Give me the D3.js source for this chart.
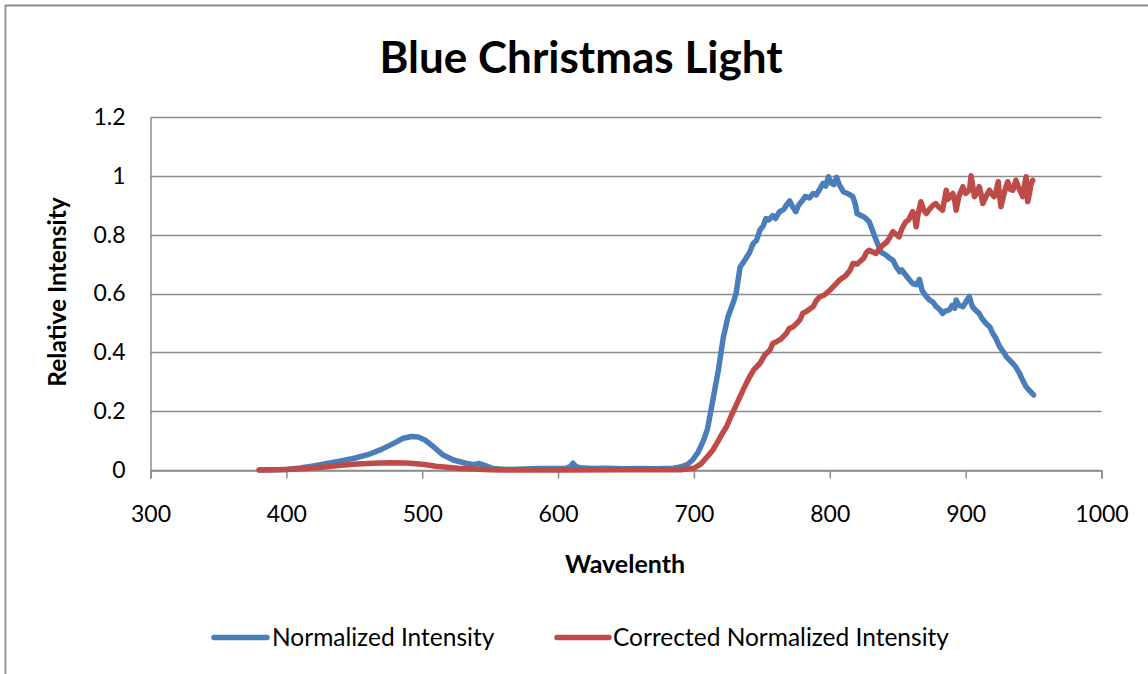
<!DOCTYPE html>
<html><head><meta charset="utf-8">
<script src="https://cdn.jsdelivr.net/npm/d3@7"></script>
<style>
html,body{margin:0;padding:0;background:#fff;}
svg{display:block;font-family:Lato,"Open Sans",sans-serif;}
</style></head>
<body>
<svg id="chart" width="1148" height="674"></svg>
<script>
const title = "Blue Christmas Light";
const xLabel = "Wavelenth";
const yLabel = "Relative Intensity";
const seriesNames = ["Normalized Intensity", "Corrected Normalized Intensity"];
const xTicks = [300, 400, 500, 600, 700, 800, 900, 1000];
const yTicks = [0, 0.2, 0.4, 0.6, 0.8, 1, 1.2];

const blueWave = [380,390,400,410,420,430,440,450,460,470,480,486,492,497,502,508,515,523,532,538,542,547,552,562,575,587,600,606,609,611,613,616,625,636,648,660,672,685,690,695,699,703,707,710,714,718,721.6,725,729,731,734,737,739,741,743.6,746,748.5,751,753,755,758,760,763,766,768,770.5,772,775,777,780,782,785,787.7,790,792,795,797,799,801,803,805,807,810,813,817,819,820,823,826,829,831,833,836,838,841.6,844,846.5,849,851.4,853,856,858,861,864,866,868,871,873.5,876,878.4,881,883,885,888,890,892,893,895,898,900,902.7,905,907,910,912,915,918,920,922,925,928,930,932,934.7,937,939.7,942,944.5,947,950];
const blueVal = [0,0.001,0.002,0.007,0.014,0.022,0.031,0.04,0.052,0.07,0.093,0.108,0.114,0.112,0.102,0.08,0.052,0.034,0.023,0.018,0.022,0.014,0.005,0.002,0.003,0.005,0.005,0.006,0.012,0.023,0.012,0.008,0.005,0.006,0.004,0.005,0.004,0.006,0.01,0.018,0.034,0.06,0.1,0.14,0.24,0.34,0.45,0.52,0.57,0.6,0.69,0.71,0.725,0.74,0.77,0.78,0.815,0.83,0.855,0.85,0.865,0.855,0.878,0.885,0.9,0.915,0.9,0.878,0.9,0.917,0.93,0.925,0.94,0.935,0.95,0.974,0.965,0.997,0.975,0.97,0.995,0.97,0.946,0.94,0.929,0.9,0.872,0.865,0.858,0.844,0.82,0.795,0.76,0.74,0.73,0.72,0.713,0.69,0.674,0.68,0.662,0.65,0.634,0.63,0.648,0.61,0.59,0.578,0.57,0.555,0.545,0.532,0.54,0.544,0.56,0.55,0.578,0.56,0.555,0.57,0.589,0.555,0.545,0.532,0.515,0.498,0.485,0.464,0.45,0.419,0.4,0.385,0.375,0.362,0.35,0.328,0.305,0.283,0.27,0.255];

const redWave = [380,400,415,430,440,452,464,476,488,496,503,510,518,528,538,550,562,600,650,690,700,705,710,714,718,721,724,728,731,734,737,741,744,748.5,752,756,758,760.8,764,768,770,773,776,778,780,783,786,787.7,790,792.6,796,800,803,807,810,812,815,817,820,822,825,827,829,832,834,837,839,842,844,846.5,849,851,853,856,858,861,862.5,863.6,865,867,869,871,874,876,878,880,883,885.7,887,890.6,892,893,895,898,900,902.8,904,906.5,908,910,911.5,912.6,915,917.5,919,921,922.5,924,925,926,928,929.5,931,932.5,934.7,936,937,939,940.5,942,943,944.5,945.7,947,948,949.4];
const redVal = [0,0.002,0.005,0.011,0.016,0.02,0.023,0.025,0.024,0.021,0.018,0.013,0.009,0.005,0.003,0.001,0,0,0.001,0.001,0.006,0.02,0.046,0.068,0.1,0.125,0.147,0.19,0.22,0.25,0.28,0.317,0.34,0.362,0.39,0.408,0.43,0.436,0.445,0.464,0.48,0.487,0.5,0.51,0.532,0.54,0.55,0.555,0.575,0.589,0.595,0.611,0.625,0.645,0.655,0.662,0.68,0.702,0.7,0.708,0.72,0.74,0.747,0.74,0.736,0.755,0.764,0.775,0.79,0.81,0.8,0.793,0.82,0.844,0.85,0.878,0.86,0.827,0.87,0.912,0.885,0.872,0.89,0.9,0.906,0.895,0.883,0.951,0.92,0.94,0.915,0.883,0.93,0.963,0.94,0.951,1.0,0.929,0.94,0.963,0.935,0.906,0.93,0.951,0.94,0.929,0.95,0.98,0.93,0.895,0.935,0.96,0.98,0.955,0.951,0.97,0.985,0.96,0.945,0.929,0.96,0.997,0.912,0.94,0.97,0.985];

const colors = ["#4a7ebb", "#be4b48"];

const svg = d3.select("#chart");
const W = 1148, H = 674;
const mLeft = 150.5, mRight = 1101.5, mTop = 117, mBottom = 470;

// outer chart border
svg.append("path").attr("d", `M5.5,${H+2}V5.5H${W+2}`).attr("fill","none").attr("stroke","#8c8c8c").attr("stroke-width",1.8);

const x = d3.scaleLinear().domain([300, 1000]).range([mLeft, mRight]);
const y = d3.scaleLinear().domain([0, 1.2]).range([mBottom, mTop]);

// gridlines
svg.append("g").selectAll("line").data(yTicks).join("line")
  .attr("x1", mLeft).attr("x2", mRight)
  .attr("y1", d => Math.round(y(d)) + 0.5).attr("y2", d => Math.round(y(d)) + 0.5)
  .attr("stroke", "#8c8c8c").attr("stroke-width", 1.5);

// x axis
const xAxis = d3.axisBottom(x).tickValues(xTicks).tickSize(8).tickPadding(27).tickFormat(d3.format("d"));
const gx = svg.append("g").attr("transform", `translate(0,${Math.round(y(0)) + 0.5})`).call(xAxis);
gx.select(".domain").attr("stroke", "#8c8c8c").attr("stroke-width", 1.5);
gx.selectAll(".tick line").attr("stroke", "#8c8c8c").attr("stroke-width", 1.5);
gx.selectAll(".tick text").attr("font-size", 23).attr("fill", "#000").attr("font-family", "Lato");

// y axis
const yAxis = d3.axisLeft(y).tickValues(yTicks).tickSize(0).tickPadding(25).tickFormat(d => d3.format("~g")(d));
const gy = svg.append("g").attr("transform", `translate(${mLeft},0)`).call(yAxis);
gy.select(".domain").attr("stroke", "#8c8c8c").attr("stroke-width", 1.5);
gy.selectAll(".tick text").attr("font-size", 23).attr("fill", "#000").attr("font-family", "Lato");

// lines
const line = d3.line().x(d => x(d[0])).y(d => y(d[1]));
const blueData = d3.zip(blueWave, blueVal);
const redData = d3.zip(redWave, redVal);
[blueData, redData].forEach((data, i) => {
  svg.append("path").datum(data).attr("d", line)
    .attr("fill", "none").attr("stroke", colors[i]).attr("stroke-width", 5.5)
    .attr("stroke-linejoin", "round").attr("stroke-linecap", "round");
});

// title
svg.append("text").attr("x", 581).attr("y", 73).attr("text-anchor", "middle")
  .attr("font-size", 44).attr("font-weight", "bold").text(title);

// axis titles
svg.append("text").attr("x", 625).attr("y", 573).attr("text-anchor", "middle")
  .attr("font-size", 25).attr("font-weight", "bold").text(xLabel);
svg.append("text").attr("transform", "translate(66,292) rotate(-90)").attr("text-anchor", "middle")
  .attr("font-size", 24.5).attr("font-weight", "bold").text(yLabel);

// legend
const legendItems = [{x1: 214, x2: 267, tx: 272}, {x1: 557, x2: 609, tx: 613}];
legendItems.forEach((it, i) => {
  svg.append("line").attr("x1", it.x1).attr("x2", it.x2).attr("y1", 637.5).attr("y2", 637.5)
    .attr("stroke", colors[i]).attr("stroke-width", 5.5).attr("stroke-linecap", "round");
  svg.append("text").attr("x", it.tx).attr("y", 646).attr("font-size", 24.5).text(seriesNames[i]);
});
</script>
</body></html>
